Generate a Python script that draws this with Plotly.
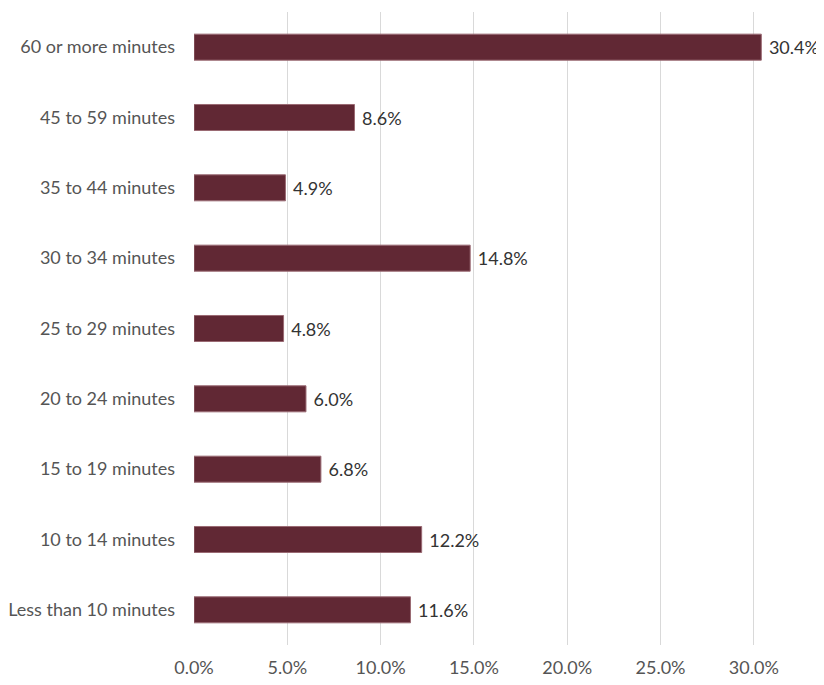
import plotly.graph_objects as go

categories = ["Less than 10 minutes", "10 to 14 minutes", "15 to 19 minutes", "20 to 24 minutes",
              "25 to 29 minutes", "30 to 34 minutes", "35 to 44 minutes", "45 to 59 minutes",
              "60 or more minutes"]
values = [11.6, 12.2, 6.8, 6.0, 4.8, 14.8, 4.9, 8.6, 30.4]
tick_vals = [0, 5, 10, 15, 20, 25, 30, 35]
tick_text = ["0.0%", "5.0%", "10.0%", "15.0%", "20.0%", "25.0%", "30.0%", "35.0%"]

fig = go.Figure(go.Bar(
    y=categories, x=values, orientation="h",
    marker=dict(color="#612834", line=dict(color="#9a6a73", width=1)),
    width=0.37,
    text=["\u00a0" + f"{v:.1f}%" for v in values], textposition="outside",
    textfont=dict(family="Lato", size=18, color="#333333"),
    cliponaxis=False,
))
fig.update_layout(
    width=816, height=669,
    margin=dict(l=186, r=0, t=4, b=32),
    plot_bgcolor="white", paper_bgcolor="white",
    showlegend=False,
    font=dict(family="Lato", size=18, color="#555555"),
)
fig.update_xaxes(range=[0, 33.76], tickvals=tick_vals, ticktext=tick_text,
                 showgrid=True, gridcolor="#d9d9d9", gridwidth=1, zeroline=False,
                 showline=False, ticklabelstandoff=10,
                 tickfont=dict(family="Lato", size=18, color="#555555"))
fig.update_yaxes(showgrid=False, showline=False, ticklabelstandoff=18,
                 tickfont=dict(family="Lato", size=18, color="#555555"))
fig.write_html("out.html")
